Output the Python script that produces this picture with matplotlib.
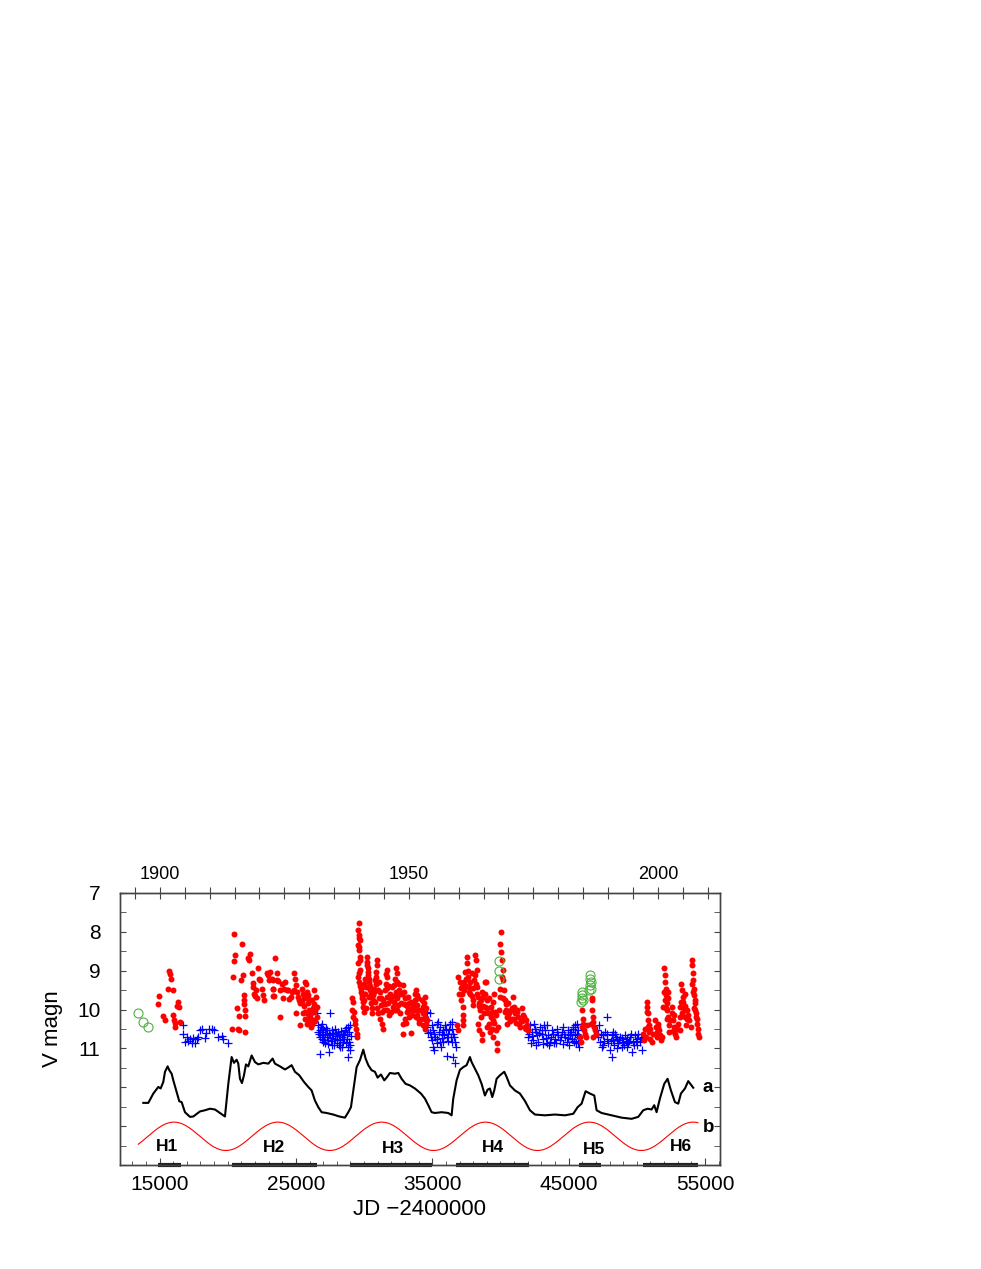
import numpy as np
import matplotlib
matplotlib.use('Agg')
import matplotlib.pyplot as plt
from matplotlib.ticker import FixedLocator, FuncFormatter

plt.rcParams['font.family'] = ['Liberation Sans', 'DejaVu Sans']

# ---- data (JD-2400000, V mag) ----
red_h1 = [(14984, 9.65), (14911, 9.86), (15228, 10.17), (15399, 10.27), (15644, 9.47), (15717, 9.00),
          (15766, 9.09), (15839, 9.20), (15962, 9.50), (16010, 10.13), (16059, 10.26), (16133, 10.34),
          (16133, 10.46), (16377, 9.80), (16450, 9.93), (16304, 9.91), (16499, 10.32)]

red_h2 = [(20483, 8.06), (20532, 8.60), (20458, 8.75), (20410, 9.16), (20703, 9.97), (20850, 10.17),
          (21265, 10.17), (21216, 9.63), (21192, 9.76), (21192, 9.86), (21265, 10.02), (21021, 8.30),
          (21094, 9.11), (20972, 9.24), (20287, 10.49), (20776, 10.49), (20825, 10.53), (21265, 10.57),
          (21509, 8.68), (21632, 8.57), (21558, 8.73), (21754, 9.07), (21827, 9.31), (21876, 9.43),
          (21925, 9.59), (21998, 9.65), (22120, 9.69), (22072, 9.50), (22243, 8.94), (22316, 9.20),
          (22365, 9.24), (22487, 9.46), (22609, 9.63), (22658, 9.76), (22854, 9.07), (22976, 9.11),
          (23049, 9.24), (23342, 9.24), (23465, 8.66), (23587, 9.07), (23636, 9.24), (23294, 9.48),
          (23391, 9.65), (23850, 10.20), (23100, 9.03), (23222, 9.20), (23344, 9.46), (23344, 9.65),
          (23711, 9.26), (23833, 9.50), (23955, 9.33), (24078, 9.71), (24126, 9.46), (24200, 9.29),
          (24322, 9.50), (24444, 9.50), (24518, 9.74), (24615, 9.67), (24689, 9.54), (24860, 9.07),
          (24933, 9.20), (25006, 9.37), (24860, 9.50), (25055, 9.54), (25177, 9.67), (25251, 9.76),
          (25300, 9.84), (25006, 10.10), (25300, 10.40), (25422, 9.46), (25544, 9.59), (25593, 9.71),
          (25666, 9.29), (25740, 9.33), (25788, 9.54), (25837, 9.69), (25911, 9.84), (25984, 10.02),
          (26033, 10.19), (26082, 10.44), (26155, 9.76), (26228, 9.97), (26277, 10.27), (26326, 9.50),
          (26399, 10.02), (26473, 9.67), (26522, 9.93), (26522, 10.19), (25544, 10.10), (25666, 10.23),
          (25788, 10.36), (25480, 9.80), (25620, 9.90), (25700, 10.05), (25860, 10.12), (25950, 10.30),
          (26100, 10.10), (26200, 10.38), (26300, 10.05), (26420, 10.30), (26350, 9.85), (25900, 9.62),
          (26050, 9.75)]

red_h3 = [(29088, 9.69), (29161, 9.80), (29088, 10.00), (29210, 10.19), (29332, 10.36), (29405, 10.49),
          (29503, 10.62), (29454, 10.70), (29259, 10.06), (29357, 10.27),
          (29650, 7.76), (29577, 7.95), (29650, 8.08), (29699, 8.21), (29577, 8.34), (29650, 8.47),
          (29699, 8.64), (29577, 8.81), (29699, 8.98), (29577, 9.16), (29650, 9.29), (29748, 9.46),
          (29821, 9.63), (29894, 9.80), (29943, 9.93), (29620, 8.15), (29620, 8.40), (29680, 8.72),
          (29610, 9.05), (29700, 9.38), (29790, 9.55), (29860, 9.70), (29980, 10.05), (30020, 9.60),
          (29960, 9.35),
          (30188, 8.64), (30236, 8.77), (30310, 8.94), (30261, 9.11), (30359, 9.29), (30432, 9.50),
          (30383, 9.67), (30481, 9.84), (30554, 9.97), (30139, 9.41), (30065, 9.59), (30016, 9.76),
          (30200, 8.85), (30280, 9.02), (30330, 9.20), (30400, 9.38), (30100, 9.20), (30150, 9.95),
          (30500, 9.60), (30600, 10.10), (30650, 9.75),
          (30921, 8.73), (30970, 8.86), (30872, 9.03), (30799, 9.24), (30725, 9.46), (30676, 9.63),
          (30799, 9.80), (30921, 9.97), (31043, 10.10), (31165, 10.23), (31287, 10.36), (31361, 10.49),
          (31116, 9.71), (31214, 9.89), (30900, 9.15), (30850, 9.35), (30750, 9.55), (31000, 9.50),
          (31080, 9.30), (31150, 9.55), (31250, 9.70), (31300, 10.05),
          (31654, 8.98), (31703, 9.16), (31605, 9.33), (31532, 9.50), (31654, 9.67), (31776, 9.84),
          (31703, 10.02), (31850, 10.14), (31898, 9.59), (31947, 9.76), (32021, 9.41), (32094, 9.93),
          (31410, 9.76), (31600, 9.08), (31680, 9.45), (31560, 9.85), (31480, 10.00), (31800, 9.40),
          (31950, 10.05), (32050, 9.65),
          (32338, 8.94), (32387, 9.07), (32265, 9.20), (32192, 9.37), (32338, 9.54), (32436, 9.71),
          (32509, 9.89), (32265, 10.02), (32583, 9.33), (32632, 9.59), (32681, 9.84), (32300, 9.65),
          (32400, 9.30), (32450, 10.00), (32550, 9.50), (32200, 9.80), (32600, 10.10),
          (32876, 9.37), (32925, 9.54), (32998, 9.71), (33071, 9.89), (33120, 10.06), (32998, 10.23),
          (32876, 10.36), (32827, 10.62), (33243, 9.67), (33316, 9.84), (33365, 10.02), (33414, 10.60),
          (33487, 10.14), (33560, 9.93), (32800, 9.60), (32950, 9.85), (33050, 10.35), (33200, 9.95),
          (33300, 10.20), (33450, 9.80),
          (33805, 9.50), (33854, 9.63), (33731, 9.76), (33903, 9.89), (33976, 10.02), (33854, 10.14),
          (34049, 10.27), (33658, 10.02), (33700, 9.60), (33780, 10.20), (33950, 9.70), (34000, 10.35),
          (33600, 9.85),
          (34465, 9.67), (34391, 9.84), (34538, 9.97), (34342, 10.10), (34465, 10.19), (34220, 10.02),
          (34147, 10.23), (34587, 10.27), (34489, 10.49), (34222, 9.76), (34344, 9.93), (34393, 10.10),
          (34467, 10.23), (34540, 10.36), (34296, 10.40), (34149, 10.02)]

red_h4 = [(36837, 10.40), (36862, 10.53), (37228, 10.14), (37277, 10.27), (37228, 10.40), (38621, 10.62),
          (38621, 10.79), (36911, 9.16), (37033, 9.29), (37155, 9.41), (36984, 9.59), (37082, 9.76),
          (37228, 9.93), (37326, 9.29), (37399, 9.03), (37522, 8.64), (37570, 8.81), (37644, 9.16),
          (37717, 9.41), (37766, 9.59), (37888, 9.07), (37962, 9.76), (38010, 9.89), (38059, 9.24),
          (38133, 8.60), (38206, 8.73), (38255, 8.98), (38304, 9.41), (38377, 9.67), (38450, 9.84),
          (38499, 10.02), (38548, 10.19), (38621, 9.54), (38744, 9.67), (38866, 9.93), (38939, 9.29),
          (38988, 9.76), (39110, 10.10), (39184, 10.36), (39281, 9.93), (39355, 10.49), (39428, 10.70),
          (39477, 10.27), (39599, 10.06), (39672, 10.53), (39770, 11.05), (39721, 10.87), (39843, 10.44),
          (39917, 10.02), (39966, 9.67), (39966, 9.46), (40014, 8.00), (39966, 8.30), (40014, 8.51),
          (40088, 8.73), (40161, 8.98), (40210, 9.24), (40259, 9.50), (40332, 9.76), (40406, 10.02),
          (40454, 10.19), (40503, 10.36), (40577, 9.84), (40650, 10.10), (40748, 10.02), (40821, 10.23),
          (40943, 9.67), (40992, 9.93), (41065, 10.10), (41188, 10.02), (41310, 10.19), (41383, 10.36),
          (41481, 10.27), (41554, 9.97), (41676, 10.14), (41799, 10.44), (41872, 10.27), (41970, 10.40),
          (42043, 10.53), (38988, 10.44), (39232, 10.57), (38866, 9.29), (38377, 10.36), (38450, 10.53),
          (39526, 9.59), (39428, 9.80),
          (37100, 9.45), (37200, 9.60), (37300, 9.50), (37450, 9.20), (37500, 9.40), (37600, 9.00),
          (37700, 9.55), (37800, 9.30), (37900, 9.65), (38000, 9.45), (38100, 9.10), (38200, 9.35),
          (38300, 9.60), (38400, 9.90), (38550, 9.75), (38700, 9.90), (38800, 10.10), (38900, 9.60),
          (39050, 9.95), (39150, 9.70), (39300, 10.20), (39400, 10.05), (39550, 10.35), (39650, 10.15),
          (40100, 9.15), (40200, 9.70), (40300, 10.05), (40400, 9.85), (40550, 10.20), (40700, 10.30),
          (40850, 9.95), (41000, 10.25), (41150, 10.35), (41250, 10.05), (41450, 10.45), (41600, 10.30),
          (41750, 10.20), (41900, 10.50)]

red_h5 = [(45955, 10.02), (46029, 10.23), (46078, 10.36), (45955, 10.44), (46126, 10.53), (46200, 10.62),
          (46273, 10.70), (46322, 10.40), (45833, 10.70), (45882, 10.83), (46689, 9.71), (46689, 9.76),
          (46713, 10.02), (46762, 10.19), (46811, 10.32), (46860, 10.44), (46933, 10.53), (47006, 10.62),
          (46811, 10.70), (46615, 10.36)]

red_h6 = [(50477, 10.62), (50526, 10.79), (50599, 10.49), (50672, 10.70), (50721, 9.80), (50770, 9.93),
          (50795, 10.10), (50843, 10.27), (50892, 10.40), (50917, 10.57), (50966, 10.75), (51088, 10.83),
          (51210, 10.62), (51332, 10.27), (51406, 10.44), (51454, 10.57), (51503, 10.70), (51577, 10.36),
          (51650, 10.53), (51699, 10.66), (51748, 10.79), (51821, 10.70), (51943, 9.93), (51992, 8.94),
          (52041, 9.11), (52065, 9.29), (52114, 9.46), (52163, 9.63), (52188, 9.84), (52236, 10.02),
          (52285, 10.19), (52334, 10.40), (52383, 10.57), (52432, 10.27), (52554, 9.93), (52603, 10.10),
          (52676, 10.27), (52725, 10.44), (52799, 10.62), (52872, 10.70), (52921, 10.49), (53043, 10.36),
          (53165, 9.93), (53239, 9.33), (53287, 9.50), (53361, 9.67), (53410, 9.80), (53458, 10.02),
          (53532, 10.19), (53605, 10.40), (53703, 10.02), (53776, 10.14), (53850, 10.27), (53947, 10.44),
          (54021, 8.86), (54069, 8.73), (54094, 9.07), (54143, 9.24), (54167, 9.46), (54192, 9.63),
          (54241, 9.84), (54265, 10.02), (54314, 10.19), (54387, 10.36), (54461, 10.49), (54509, 10.62),
          (54558, 10.70), (53165, 10.53),
          (50750, 10.05), (50820, 10.45), (51000, 10.50), (51380, 10.62), (51520, 10.45), (52020, 9.55),
          (52090, 9.75), (52140, 9.95), (52210, 10.25), (52260, 9.55), (52310, 9.70), (52620, 10.55),
          (52760, 10.15), (53200, 10.20), (53260, 9.80), (53330, 10.10), (53500, 9.60), (53560, 9.90),
          (53660, 10.25), (54050, 9.35), (54120, 9.55), (54210, 9.95), (54290, 9.75), (54350, 10.10),
          (54430, 10.25)]

blue_1 = [(16695, 10.40), (16744, 10.62), (16866, 10.83), (16988, 10.70), (17110, 10.80), (17232, 10.75),
          (17355, 10.86), (17477, 10.72), (17599, 10.86), (17721, 10.75), (17843, 10.70), (17966, 10.53),
          (18088, 10.51), (18332, 10.72), (18406, 10.60), (18650, 10.49), (18821, 10.51), (18992, 10.53),
          (19310, 10.70), (19554, 10.68), (19676, 10.75), (20043, 10.86)]

blue_2 = [(26522, 10.10), (27499, 10.10), (26644, 10.40), (26766, 10.53), (26888, 10.36), (27010, 10.49),
          (27133, 10.62), (27255, 10.70), (26766, 10.70), (26962, 10.83), (27133, 10.87), (27377, 10.79),
          (27499, 10.66), (27621, 10.53), (27744, 10.63), (27866, 10.75), (27988, 10.68), (28110, 10.57),
          (28232, 10.79), (28355, 10.70), (28477, 10.62), (28599, 10.53), (28721, 10.75), (28843, 10.44),
          (28966, 10.40), (26766, 11.13), (27450, 11.09), (28843, 11.22), (28966, 11.05), (28232, 10.96),
          (27988, 10.87), (27621, 10.92), (27255, 10.53), (27010, 10.66), (28428, 10.83), (28672, 10.87),
          (28917, 10.83), (28770, 10.63), (27866, 10.49), (26644, 10.57), (26888, 10.75), (28184, 10.66),
          (28526, 10.75), (29039, 10.68), (26700, 10.62), (26820, 10.45), (26950, 10.58), (27060, 10.78),
          (27180, 10.48), (27320, 10.88), (27420, 10.60), (27560, 10.82), (27680, 10.72), (27800, 10.90),
          (27920, 10.60), (28050, 10.78), (28160, 10.90), (28300, 10.55), (28400, 10.95), (28560, 10.65),
          (28650, 10.48), (28800, 10.95), (28900, 10.58), (28990, 10.90)]

blue_3 = [(34589, 10.06), (34833, 10.10), (34711, 10.27), (34638, 10.44), (34955, 10.40), (35078, 10.53),
          (35200, 10.70), (35322, 10.36), (35444, 10.32), (35566, 10.44), (35689, 10.62), (35811, 10.53),
          (35933, 10.40), (36055, 10.70), (36177, 10.62), (36300, 10.36), (36422, 10.32), (36544, 10.62),
          (36666, 10.83), (35126, 11.05), (35078, 10.96), (35322, 10.87), (35566, 10.83), (36055, 11.20),
          (36544, 11.22), (36666, 11.37), (36740, 10.96), (36422, 10.83), (35811, 10.83), (36251, 10.53),
          (34833, 10.57), (34980, 10.79), (35615, 10.96), (34700, 10.60), (34900, 10.70), (35150, 10.62),
          (35380, 10.75), (35500, 10.58), (35750, 10.72), (35880, 10.66), (36000, 10.50), (36120, 10.80),
          (36350, 10.70), (36480, 10.50), (36600, 10.70)]

blue_4 = [(41921, 10.53), (42043, 10.70), (42165, 10.40), (42287, 10.57), (42410, 10.79), (42532, 10.49),
          (42654, 10.66), (42776, 10.83), (42898, 10.44), (43021, 10.62), (43143, 10.75), (43265, 10.53),
          (43387, 10.40), (43509, 10.66), (43632, 10.83), (43754, 10.53), (43876, 10.62), (43998, 10.75),
          (44120, 10.49), (44243, 10.66), (44365, 10.79), (44487, 10.57), (44609, 10.44), (44731, 10.70),
          (44854, 10.83), (44976, 10.53), (45098, 10.66), (45220, 10.75), (45342, 10.44), (45465, 10.62),
          (45587, 10.36), (45709, 10.53), (45782, 10.70), (42214, 10.87), (42605, 10.92), (43094, 10.89),
          (43583, 10.92), (44072, 10.87), (44560, 10.89), (45049, 10.92), (45538, 10.86), (42458, 10.38),
          (43192, 10.40), (42100, 10.62), (42350, 10.68), (42600, 10.58), (42830, 10.60), (43080, 10.52),
          (43320, 10.72), (43450, 10.85), (43700, 10.70), (43950, 10.85), (44180, 10.58), (44420, 10.70),
          (44680, 10.62), (44920, 10.72), (45150, 10.58), (45400, 10.80), (45650, 10.62), (45100, 10.62),
          (45222, 10.75), (45344, 10.49), (45467, 10.40), (45589, 10.66), (45711, 10.87), (45784, 10.96),
          (45393, 10.83)]

blue_5 = [(47055, 10.53), (47177, 10.70), (47300, 10.83), (47422, 10.96), (47544, 10.66), (47666, 10.57),
          (47788, 10.20), (47788, 10.75), (47911, 10.87), (48033, 11.05), (48155, 11.22), (48155, 10.66),
          (48277, 10.79), (48399, 10.62), (48522, 10.75), (48644, 10.87), (48766, 10.70), (48888, 10.96),
          (49010, 10.83), (49133, 10.66), (49255, 10.75), (49377, 10.87), (49499, 10.70), (49621, 11.09),
          (49744, 10.83), (49866, 10.66), (49988, 10.75), (50110, 10.62), (50232, 10.83), (50355, 11.05),
          (50428, 10.70), (47544, 10.92), (48522, 10.98), (49255, 10.96), (47251, 10.40), (48277, 10.57),
          (47120, 10.62), (47360, 10.62), (47600, 10.80), (47850, 10.62), (48090, 10.80), (48330, 10.90),
          (48460, 10.70), (48700, 10.78), (48950, 10.72), (49070, 10.90), (49200, 10.80), (49440, 10.80),
          (49560, 10.62), (49800, 10.90), (49930, 10.80), (50050, 10.90), (50300, 10.72)]

green = [(13444, 10.10), (13811, 10.32), (14177, 10.46), (39917, 8.75), (39917, 9.01), (39917, 9.22),
         (45955, 9.54), (45955, 9.63), (45955, 9.71), (46029, 9.76), (45906, 9.80), (46566, 9.11),
         (46566, 9.20), (46615, 9.29), (46566, 9.37), (46615, 9.46), (46517, 9.50)]

# smoothed light curve "a" (shifted down in the plot)
curve_a = [(13811, 12.40), (14178, 12.40), (14545, 12.16), (14911, 11.99), (15082, 12.03), (15278, 11.86),
           (15400, 11.60), (15596, 11.46), (15718, 11.56), (15889, 11.65), (16011, 11.82), (16255, 12.12),
           (16451, 12.36), (16622, 12.38), (16866, 12.64), (17233, 12.76), (17477, 12.75), (17966, 12.62),
           (18333, 12.59), (18699, 12.55), (19066, 12.57), (19433, 12.66), (19799, 12.75), (20044, 11.91),
           (20288, 11.22), (20459, 11.37), (20655, 11.29), (20777, 11.39), (20899, 11.78), (21046, 11.89),
           (21193, 11.69), (21339, 11.41), (21510, 11.46), (21755, 11.18), (22000, 11.35), (22244, 11.41),
           (22611, 11.37), (22978, 11.39), (23294, 11.26), (23465, 11.39), (23832, 11.46), (24199, 11.54),
           (24443, 11.49), (24687, 11.43), (24932, 11.60), (25250, 11.69), (25592, 11.86), (25910, 11.99),
           (26154, 12.08), (26398, 12.34), (26643, 12.51), (26887, 12.64), (27253, 12.66), (27742, 12.70),
           (28182, 12.75), (28599, 12.78), (28844, 12.64), (29039, 12.51), (29210, 12.08), (29455, 11.48),
           (29699, 11.30), (29943, 11.03), (30114, 11.26), (30310, 11.43), (30554, 11.56), (30799, 11.60),
           (30994, 11.75), (31239, 11.67), (31483, 11.82), (31654, 11.75), (31899, 11.63), (32265, 11.65),
           (32510, 11.63), (32754, 11.78), (33047, 11.91), (33365, 11.95), (33732, 12.03), (34172, 12.16),
           (34465, 12.29), (34709, 12.46), (34954, 12.64), (35198, 12.66), (35686, 12.64), (36175, 12.66),
           (36420, 12.72), (36542, 12.29), (36787, 11.82), (37031, 11.55), (37276, 11.48), (37520, 11.43),
           (37764, 11.22), (37886, 11.35), (38131, 11.52), (38375, 11.69), (38620, 11.91), (38864, 12.21),
           (39060, 12.06), (39231, 12.03), (39402, 12.25), (39548, 12.08), (39720, 11.78), (39964, 11.69),
           (40282, 11.60), (40453, 11.73), (40698, 11.95), (41064, 12.08), (41430, 12.16), (41797, 12.35),
           (42166, 12.59), (42532, 12.70), (43265, 12.72), (44000, 12.70), (44732, 12.72), (45343, 12.68),
           (45661, 12.51), (45954, 12.42), (46247, 12.10), (46565, 12.16), (46883, 12.21), (47054, 12.59),
           (47420, 12.66), (48153, 12.72), (48888, 12.78), (49620, 12.81), (50108, 12.76), (50475, 12.59),
           (50793, 12.55), (51086, 12.57), (51282, 12.46), (51453, 12.64), (51697, 12.29), (52015, 11.91),
           (52259, 11.78), (52504, 12.08), (52798, 12.38), (53043, 12.42), (53237, 12.16), (53532, 12.03),
           (53775, 11.84), (53946, 11.92), (54141, 12.01)]

# sinusoid "b"
b_epoch, b_period, b_mid, b_amp = 31291, 7616, 13.26, 0.365
b_start, b_end = 13442, 54486

# high-state intervals H1..H6
h_names = ['H1', 'H2', 'H3', 'H4', 'H5', 'H6']
h_start = [14909, 20291, 28966, 36739, 45781, 50430]
h_end = [16551, 26568, 34957, 42070, 47350, 54507]
h_text_x = [15569, 23415, 32141, 39430, 46858, 53238]
h_text_y = [13.52, 13.55, 13.58, 13.55, 13.61, 13.52]

years = list(range(1895, 2011, 5))
year_labels = [1900, 1950, 2000]


def unzip(pts):
    a = np.array(pts, dtype=float)
    return a[:, 0], a[:, 1]


fig = plt.figure(figsize=(9.81, 12.69), dpi=100)
ax = fig.add_axes([0.1223, 0.0819, 0.6116, 0.2144])

for seg in [blue_1, blue_2, blue_3, blue_4, blue_5]:
    x, y = unzip(seg)
    ax.plot(x, y, '+', color='#0000ff', ms=6, mew=0.9, zorder=2)

for seg in [red_h1, red_h2, red_h3, red_h4, red_h5, red_h6]:
    x, y = unzip(seg)
    ax.plot(x, y, 'o', color='#ff0000', ms=4.3, mew=0, zorder=3)

x, y = unzip(green)
ax.plot(x, y, 'o', mfc='none', mec='#4db33d', ms=6.5, mew=0.8, zorder=4)

x, y = unzip(curve_a)
ax.plot(x, y, '-', color='black', lw=1.5, zorder=3)

bx = np.linspace(b_start, b_end, 600)
by = b_mid - b_amp * np.cos(2 * np.pi * (bx - b_epoch) / b_period)
ax.plot(bx, by, '-', color='#ff0000', lw=0.8, zorder=3)

ax.text(54850, 12.01, 'a', fontsize=13.5, fontweight='bold', ha='left', va='center')
ax.text(54850, 13.04, 'b', fontsize=13.5, fontweight='bold', ha='left', va='center')

for name, s, e, tx, ty in zip(h_names, h_start, h_end, h_text_x, h_text_y):
    ax.plot([s, e], [14.0, 14.0], '-', color='#222222', lw=3, solid_capstyle='butt',
            clip_on=False, zorder=5)
    ax.text(tx, ty, name, fontsize=12.5, fontweight='bold', ha='center', va='center')

ax.set_xlim(12100, 56100)
ax.set_ylim(14.0, 7.0)

ax.xaxis.set_major_locator(FixedLocator([15000, 25000, 35000, 45000, 55000]))
ax.xaxis.set_minor_locator(FixedLocator(list(range(13000, 56001, 1000))))
ax.yaxis.set_major_locator(FixedLocator(list(range(7, 15))))
ax.yaxis.set_minor_locator(FixedLocator([v + 0.5 for v in range(7, 14)]))
ax.yaxis.set_major_formatter(FuncFormatter(lambda v, p: '%d' % v if v <= 11 else ''))

ax.tick_params(axis='x', which='major', direction='in', length=5, labelsize=15, pad=7,
               top=False, color='#444444')
ax.tick_params(axis='x', which='minor', direction='in', length=3, top=False, color='#444444')
ax.tick_params(axis='y', which='both', direction='in', length=4, left=True, right=True,
               labelsize=15, pad=14, color='#444444')

ax.set_xlabel('JD \u22122400000', fontsize=16, labelpad=4)
ax.set_ylabel('V magn', fontsize=16, labelpad=10)

ax2 = ax.twiny()
ax2.set_xlim(ax.get_xlim())
year_jd = [(yr - 1900) * 365.25 + 15020 for yr in years]
ax2.set_xticks(year_jd)
ax2.set_xticklabels([str(yr) if yr in year_labels else '' for yr in years])
ax2.tick_params(axis='x', direction='inout', length=9, labelsize=13, pad=3, color='#444444')

for a in (ax, ax2):
    for sp in a.spines.values():
        sp.set_color('#444444')
        sp.set_linewidth(1.0)

fig.savefig('out.png', dpi=100)
